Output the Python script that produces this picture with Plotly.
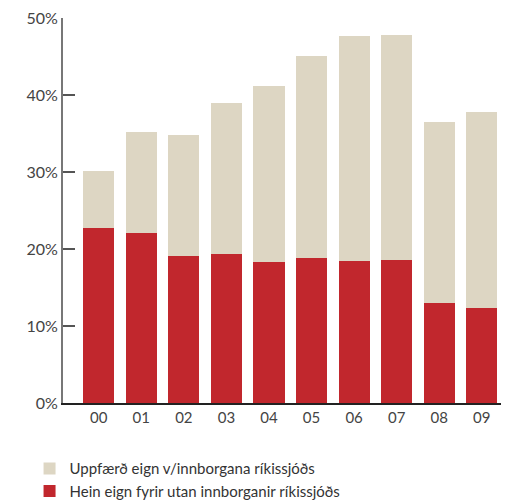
import plotly.graph_objects as go

# years (x categories)
years = ["00", "01", "02", "03", "04", "05", "06", "07", "08", "09"]

# total share and the red part (% )
total = [30.1, 35.2, 34.8, 39.0, 41.2, 45.1, 47.7, 47.8, 36.5, 37.8]
hrein = [22.7, 22.1, 19.1, 19.3, 18.3, 18.8, 18.4, 18.6, 13.0, 12.4]
uppfaerd = [round(t - h, 1) for t, h in zip(total, hrein)]

ytick_vals = [0, 10, 20, 30, 40, 50]
ytick_text = ["0%", "10%", "20%", "30%", "40%", "50%"]

name_red = "Hein eign fyrir utan innborganir ríkissjóðs"
name_beige = "Uppfærð eign v/innborgana ríkissjóðs"

fig = go.Figure()
fig.add_trace(go.Bar(x=years, y=hrein, name=name_red,
                     marker_color="#c1272d", marker_line_width=0))
fig.add_trace(go.Bar(x=years, y=uppfaerd, name=name_beige,
                     marker_color="#ddd6c3", marker_line_width=0))

# the page body adds an 8px margin, so the figure is 8px smaller
fig.update_layout(
    width=501, height=494,
    margin=dict(l=55, r=0, t=10, b=99, autoexpand=False),
    barmode="stack",
    bargap=0.27,
    plot_bgcolor="white",
    paper_bgcolor="white",
    font=dict(family="Lato, sans-serif", size=15, color="#444444"),
    showlegend=True,
    legend=dict(
        traceorder="reversed",
        orientation="v",
        x=-0.075, xanchor="left",
        y=-0.128, yanchor="top",
        font=dict(size=15, color="#333333"),
        tracegroupgap=0,
        borderwidth=0,
        bgcolor="rgba(0,0,0,0)",
    ),
)

fig.update_xaxes(
    type="category",
    range=[-0.84, 9.64],
    showline=True, linecolor="#222222", linewidth=1.5,
    showgrid=False, ticks="",
    tickfont=dict(size=15, color="#444444"),
    automargin=False,
)
fig.update_yaxes(
    range=[0, 50],
    tickmode="array",
    tickvals=ytick_vals,
    ticktext=ytick_text,
    ticklabeloverflow="allow",
    showline=True, linecolor="#777777", linewidth=2,
    ticks="inside", ticklen=12, tickcolor="#555555", tickwidth=1.5,
    showgrid=False, zeroline=False,
    tickfont=dict(size=16, color="#444444"),
    automargin=False,
)

fig.write_html("out.html")
